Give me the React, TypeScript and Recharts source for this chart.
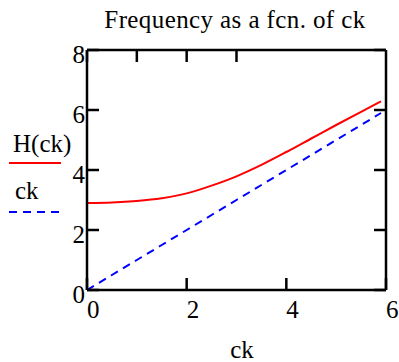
import { LineChart, Line, XAxis, YAxis } from 'recharts';

// values
const ckValues = [0, 0.5, 1, 1.5, 2, 2.5, 3, 3.5, 4, 4.5, 5, 5.5, 5.9];
const hValues = [2.9, 2.92, 2.97, 3.06, 3.22, 3.48, 3.79, 4.17, 4.6, 5.05, 5.5, 5.94, 6.29];
const xTicks = [0, 2, 4, 6];
const yTicks = [0, 2, 4, 6, 8];

const data = ckValues.map((v, i) => ({ ck: v, H: hValues[i], line: v }));

const AXIS = { stroke: '#000', strokeWidth: 2.5 };
const textStyle = { fontFamily: 'Liberation Serif', fontSize: 25 };

const XTick = ({ x, y, payload }: any) => (
  <text x={x} y={y} textAnchor="start" style={textStyle} fill="#000">
    {payload.value}
  </text>
);

const YTick = ({ x, y, payload }: any) => (
  <text x={x} y={y + 13} textAnchor="end" style={textStyle} fill="#000">
    {payload.value}
  </text>
);

const NoTick = () => <g />;

export default function App() {
  return (
    <div style={{ position: 'absolute', left: 0, top: 0, width: 399, height: 362, background: '#fff' }}>
      <LineChart width={399} height={362} data={data} margin={{ top: 0, right: 0, bottom: 0, left: 0 }}>
        <XAxis dataKey="ck" type="number" domain={[0, 6]} ticks={xTicks} height={72}
          axisLine={AXIS} tickLine={AXIS} tickSize={-12} tickMargin={40} tick={<XTick />} />
        <XAxis xAxisId="t" orientation="top" type="number" domain={[0, 6]} ticks={xTicks} height={50}
          allowDataOverflow axisLine={AXIS} tickLine={AXIS} tickSize={-12} tick={<NoTick />} />
        <YAxis type="number" domain={[0, 8]} ticks={yTicks} width={87}
          axisLine={AXIS} tickLine={AXIS} tickSize={-12} tickMargin={14} tick={<YTick />} />
        <YAxis yAxisId="r" orientation="right" type="number" domain={[0, 8]} ticks={yTicks} width={13}
          allowDataOverflow axisLine={AXIS} tickLine={AXIS} tickSize={-12} tick={<NoTick />} />
        <Line type="monotone" dataKey="H" name="H(ck)" stroke="#ff0000" strokeWidth={2} dot={false} isAnimationActive={false} />
        <Line dataKey="line" name="ck" stroke="#0000ff" strokeWidth={2} strokeDasharray="8 6" dot={false} isAnimationActive={false} />
      </LineChart>
      <svg width={399} height={362} style={{ position: 'absolute', left: 0, top: 0, pointerEvents: 'none' }}>
        <g style={textStyle} fill="#000">
          <text x={235} y={28} textAnchor="middle" letterSpacing={0.4}>Frequency as a fcn. of ck</text>
          <text x={242} y={358} textAnchor="middle">ck</text>
          <text x={13} y={152}>H(ck)</text>
          <text x={15} y={199}>ck</text>
        </g>
        <line x1={9} x2={61} y1={163} y2={163} stroke="#ff0000" strokeWidth={2} />
        <line x1={9} x2={61} y1={212} y2={212} stroke="#0000ff" strokeWidth={2} strokeDasharray="8 6" />
      </svg>
    </div>
  );
}
